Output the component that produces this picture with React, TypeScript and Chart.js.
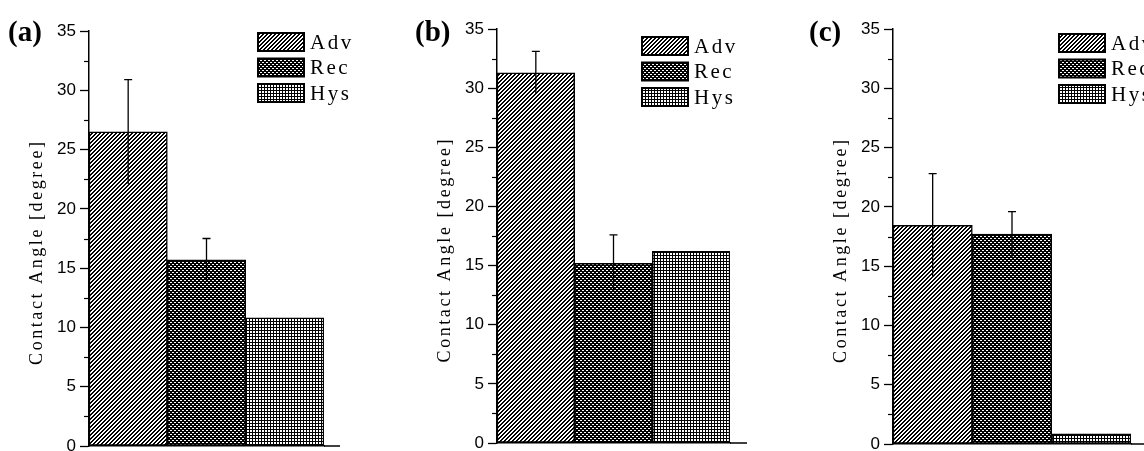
import React, { useEffect, useRef } from 'react';
import { Chart, registerables } from 'chart.js';

Chart.register(...registerables);

// ---- data ----
const seriesLabels = ['Adv', 'Rec', 'Hys'];
const panelNames = ['(a)', '(b)', '(c)'];
const categories = ['sample'];
const advValues = [26.5, 31.3, 18.45];
const recValues = [15.7, 15.2, 17.7];
const hysValues = [10.8, 16.2, 0.85];
const advErrors = [4.4, 1.8, 4.35];
const recErrors = [1.8, 2.4, 1.9];
const hysErrors = [0, 0, 0];
const yMin = 0;
const yMax = 35;
const yStep = 5;
const yMinorStep = 2.5;
const yTitle = 'Contact Angle [degree]';

// ---- layout (pixels) ----
const W = 1144;
const H = 451;
const YSCALE_W = 62;
const TITLE_LEN = 223;
const layouts = [
  { axisX: 89, top: 31, bottom: 446, right: 324, ext: 16, lx: 258, ly: 33, px: 8 },
  { axisX: 497, top: 29, bottom: 443, right: 730, ext: 17, lx: 642, ly: 37, px: 415 },
  { axisX: 893, top: 29, bottom: 444, right: 1131, ext: 20, lx: 1059, ly: 34, px: 809 },
];

function makePattern(kind: string): CanvasPattern | string {
  const n = kind === 'hys' ? 3 : 4;
  const c = document.createElement('canvas');
  c.width = n;
  c.height = n;
  const ctx = c.getContext('2d');
  if (!ctx) return '#888';
  const img = ctx.createImageData(n, n);
  for (let y = 0; y < n; y++) {
    for (let x = 0; x < n; x++) {
      let black = false;
      if (kind === 'adv') black = (x + y) % 4 < 2;
      else if (kind === 'rec')
        black = !((y === 0 && (x === 0 || x === 1)) || (y === 2 && (x === 2 || x === 3)));
      else black = x === 0 || y === 0;
      const i = (y * n + x) * 4;
      const v = black ? 0 : 255;
      img.data[i] = v;
      img.data[i + 1] = v;
      img.data[i + 2] = v;
      img.data[i + 3] = 255;
    }
  }
  ctx.putImageData(img, 0, 0);
  return ctx.createPattern(c, 'repeat') || '#888';
}

function Panel({ index }: { index: number }) {
  const ref = useRef<HTMLCanvasElement>(null);
  useEffect(() => {
    const canvas = ref.current;
    if (!canvas) return;
    const L = layouts[index];
    const patterns = [makePattern('adv'), makePattern('rec'), makePattern('hys')];
    const values = [advValues[index], recValues[index], hysValues[index]];
    const errors = [advErrors[index], recErrors[index], hysErrors[index]];

    const decorations = {
      id: 'decorations',
      afterDatasetsDraw(chart: any) {
        const ctx = chart.ctx;
        const ys = chart.scales.y;
        ctx.save();
        ctx.strokeStyle = '#000';
        ctx.lineWidth = 1.3;
        chart.data.datasets.forEach((ds: any, i: number) => {
          const e = errors[i];
          if (!e) return;
          const bar = chart.getDatasetMeta(i).data[0];
          const v = ds.data[0];
          const yt = ys.getPixelForValue(v + e);
          const yb = ys.getPixelForValue(v - e);
          ctx.beginPath();
          ctx.moveTo(bar.x, yb);
          ctx.lineTo(bar.x, yt);
          ctx.moveTo(bar.x - 4, yt);
          ctx.lineTo(bar.x + 4, yt);
          ctx.stroke();
        });
        ctx.restore();
      },
      afterDraw(chart: any) {
        const ctx = chart.ctx;
        const ys = chart.scales.y;
        const area = chart.chartArea;
        ctx.save();
        ctx.strokeStyle = '#000';
        // minor ticks
        ctx.lineWidth = 1.2;
        for (let v = yMin + yMinorStep; v < yMax; v += yStep) {
          const y = Math.round(ys.getPixelForValue(v)) + 0.5;
          ctx.beginPath();
          ctx.moveTo(area.left - 5, y);
          ctx.lineTo(area.left, y);
          ctx.stroke();
        }
        // x-axis line extension
        ctx.lineWidth = 1.5;
        ctx.beginPath();
        ctx.moveTo(area.right, area.bottom);
        ctx.lineTo(area.right + L.ext, area.bottom);
        ctx.stroke();
        // y-axis title (spaced serif)
        ctx.save();
        ctx.fillStyle = '#000';
        ctx.font = '18px "Liberation Serif", "DejaVu Serif", serif';
        ctx.letterSpacing = '0px';
        const w0 = ctx.measureText(yTitle).width;
        const sp = Math.max(0, (TITLE_LEN - w0) / (yTitle.length - 1));
        ctx.letterSpacing = sp.toFixed(2) + 'px';
        ctx.translate(area.left - 52, (area.top + area.bottom) / 2 + 15);
        ctx.rotate(-Math.PI / 2);
        ctx.textAlign = 'center';
        ctx.textBaseline = 'middle';
        ctx.fillText(yTitle, sp / 2, 0);
        ctx.restore();
        // legend
        chart.data.datasets.forEach((ds: any, i: number) => {
          const bx = L.lx;
          const by = L.ly + i * 25.5;
          ctx.fillStyle = ds.backgroundColor;
          ctx.fillRect(bx, by, 46, 18);
          ctx.lineWidth = 2;
          ctx.strokeRect(bx, by, 46, 18);
          ctx.fillStyle = '#000';
          ctx.font = '21px "Liberation Serif", "DejaVu Serif", serif';
          ctx.letterSpacing = '2.5px';
          ctx.textBaseline = 'middle';
          ctx.textAlign = 'left';
          ctx.fillText(ds.label, bx + 52, by + 10);
        });
        ctx.letterSpacing = '0px';
        // panel label
        ctx.font = 'bold 29px "Liberation Serif"';
        ctx.textBaseline = 'alphabetic';
        ctx.textAlign = 'left';
        ctx.fillStyle = '#000';
        ctx.fillText(panelNames[index], L.px, 41);
        ctx.restore();
      },
    };

    const chart = new Chart(canvas, {
      type: 'bar',
      data: {
        labels: categories,
        datasets: seriesLabels.map((label, i) => ({
          label,
          data: [values[i]],
          backgroundColor: patterns[i] as any,
          borderColor: '#000',
          borderWidth: 1.5,
          borderSkipped: false,
          categoryPercentage: 1,
          barPercentage: 1,
        })),
      },
      options: {
        responsive: false,
        animation: false,
        events: [],
        layout: {
          padding: {
            left: L.axisX - YSCALE_W,
            top: L.top,
            bottom: H - L.bottom,
            right: W - L.right,
          },
        },
        plugins: {
          legend: { display: false },
          title: { display: false },
          tooltip: { enabled: false },
        },
        scales: {
          x: {
            afterFit: (s: any) => {
              s.height = 0;
              s.paddingLeft = 0;
              s.paddingRight = 0;
            },
            ticks: { display: false },
            grid: { display: true, drawOnChartArea: false, drawTicks: false },
            border: { display: true, color: '#000', width: 1.5 },
          },
          y: {
            min: yMin,
            max: yMax,
            afterFit: (s: any) => {
              s.width = YSCALE_W;
              s.paddingTop = 0;
              s.paddingBottom = 0;
            },
            ticks: {
              stepSize: yStep,
              color: '#000',
              padding: 4,
              font: { family: '"Liberation Sans Narrow", "Liberation Sans", Arial, sans-serif', size: 17 },
            },
            grid: {
              display: true,
              drawOnChartArea: false,
              drawTicks: true,
              tickLength: 9,
              tickColor: '#000',
              tickWidth: 1.3,
            },
            border: { display: true, color: '#000', width: 1.5 },
            title: { display: false },
          },
        },
      },
      plugins: [decorations],
    } as any);
    return () => chart.destroy();
  }, [index]);
  return (
    <canvas
      ref={ref}
      width={W}
      height={H}
      style={{ position: 'absolute', left: 0, top: 0, width: W, height: H }}
    />
  );
}

export default function App() {
  return (
    <div
      style={{
        position: 'fixed',
        left: 0,
        top: 0,
        width: W,
        height: H,
        overflow: 'hidden',
        background: '#fff',
      }}
    >
      {panelNames.map((_, i) => (
        <Panel key={i} index={i} />
      ))}
    </div>
  );
}
